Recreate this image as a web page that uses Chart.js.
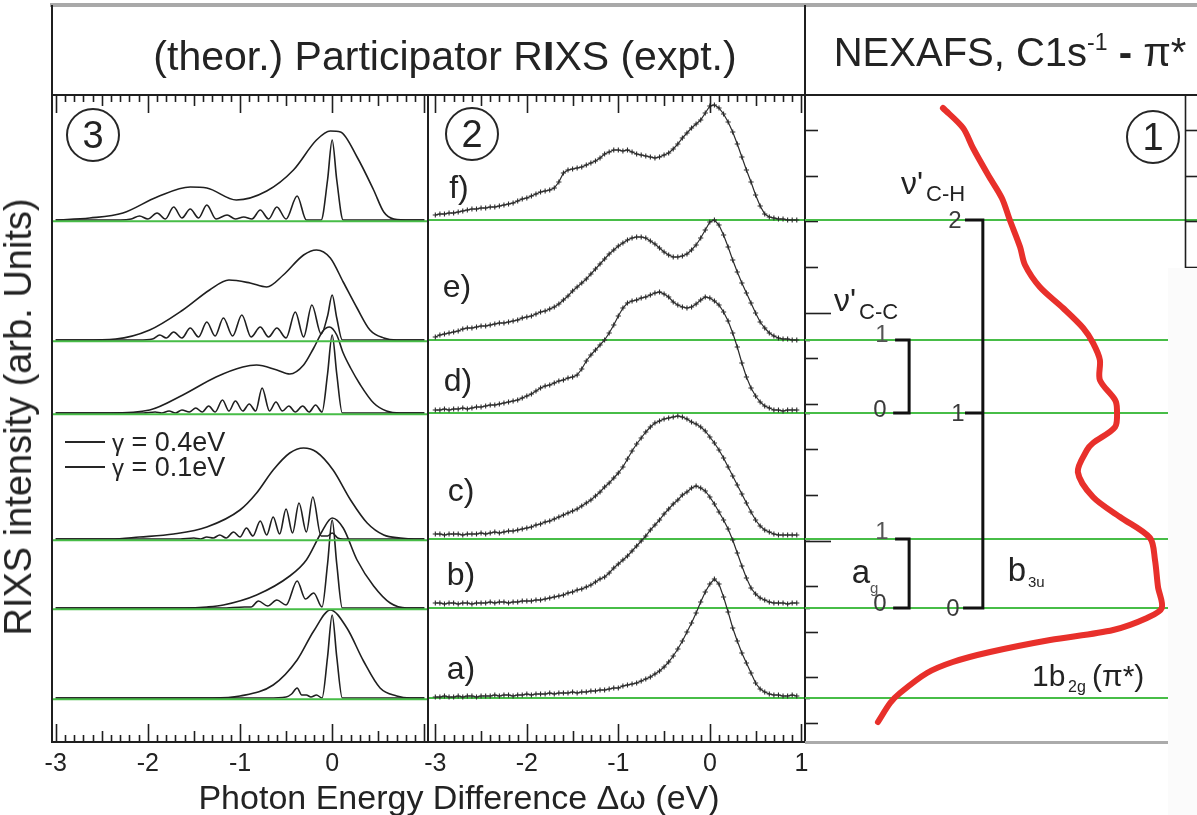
<!DOCTYPE html>
<html>
<head>
<meta charset="utf-8">
<script src="https://cdn.jsdelivr.net/npm/chart.js@4.4.1/dist/chart.umd.min.js"></script>
<style>
  html, body { margin: 0; padding: 0; background: #fff; }
  #stage { position: relative; width: 1197px; height: 815px; overflow: hidden;
           font-family: 'Liberation Sans', Arial, Helvetica, sans-serif; color: #232323; }
  canvas { position: absolute; left: 0; top: 0; }
  .t { position: absolute; white-space: nowrap; line-height: 1; }
  .cc { transform: translate(-50%, -50%); }
  .lm { transform: translateY(-50%); }
  .bar { position: absolute; }
  .circ { position: absolute; width: 50px; height: 50px; border: 2px solid #262626; border-radius: 50%;
          display: flex; align-items: center; justify-content: center; font-size: 38px; line-height: 1; }
  .lg { position: absolute; height: 0; border-top: 2px solid #262626; width: 40px; }
</style>
</head>
<body>
<div id="stage">
  <canvas id="theory" width="1197" height="815"></canvas>
  <canvas id="expt" width="1197" height="815"></canvas>
  <canvas id="nexafs" width="1197" height="815"></canvas>

  <!-- header box -->
  <div class="bar" style="left:50px;top:3px;width:1147px;height:4px;background:#a9a9a9"></div>
  <div class="bar" style="left:51px;top:5px;width:2px;height:91px;background:#1f1f1f"></div>
  <div class="bar" style="left:804px;top:5px;width:2px;height:91px;background:#1f1f1f"></div>
  <div class="bar" style="left:52px;top:94px;width:1145px;height:2px;background:#1f1f1f"></div>
  <div class="t cc" style="left:445px;top:56px;font-size:41px">(theor.) Participator R<b>I</b>XS (expt.)</div>
  <div class="t cc" style="left:1010px;top:52px;font-size:40px">NEXAFS, C1s<span style="font-size:23px;position:relative;top:-16px">-1</span> <b>-</b> π*</div>

  <!-- axis titles -->
  <div class="t cc" style="left:18px;top:417px;font-size:38px;transform:translate(-50%,-50%) rotate(-90deg)">RIXS intensity (arb. Units)</div>
  <div class="t cc" style="left:459px;top:797px;font-size:34px">Photon Energy Difference Δω (eV)</div>

  <!-- panel numbers -->
  <div class="circ" style="left:66px;top:108px">3</div>
  <div class="circ" style="left:445px;top:107px">2</div>
  <div class="circ" style="left:1126px;top:110px">1</div>

  <!-- legend of the theory panel -->
  <div class="lg" style="left:65px;top:441px"></div>
  <div class="t lm" style="left:112px;top:442px;font-size:27px"><span style="font-size:24px">γ</span> = 0.4eV</div>
  <div class="lg" style="left:65px;top:466px"></div>
  <div class="t lm" style="left:112px;top:467px;font-size:27px"><span style="font-size:24px">γ</span> = 0.1eV</div>

  <!-- spectrum labels -->
  <div class="t cc" style="left:459px;top:187px;font-size:32px">f)</div>
  <div class="t cc" style="left:457px;top:286px;font-size:32px">e)</div>
  <div class="t cc" style="left:458px;top:380px;font-size:32px">d)</div>
  <div class="t cc" style="left:461px;top:490px;font-size:32px">c)</div>
  <div class="t cc" style="left:461px;top:574px;font-size:32px">b)</div>
  <div class="t cc" style="left:461px;top:668px;font-size:32px">a)</div>

  <!-- vibrational progressions -->
  <div class="t lm" style="left:901px;top:183px;font-size:32px">ν'</div>
  <div class="t lm" style="left:926px;top:194px;font-size:22px">C-H</div>
  <div class="t cc" style="left:955px;top:220px;font-size:24px;color:#3a3a3a">2</div>
  <div class="t cc" style="left:958px;top:413px;font-size:24px;color:#3a3a3a">1</div>
  <div class="t cc" style="left:953px;top:608px;font-size:24px;color:#3a3a3a">0</div>

  <div class="t lm" style="left:834px;top:300px;font-size:32px">ν'</div>
  <div class="t lm" style="left:859px;top:312px;font-size:22px">C-C</div>
  <div class="t cc" style="left:882px;top:334px;font-size:24px;color:#555">1</div>
  <div class="t cc" style="left:880px;top:409px;font-size:24px;color:#3a3a3a">0</div>

  <div class="t cc" style="left:882px;top:531px;font-size:24px;color:#555">1</div>
  <div class="t cc" style="left:880px;top:603px;font-size:24px;color:#3a3a3a">0</div>
  <div class="t cc" style="left:861px;top:571px;font-size:33px">a</div>
  <div class="t lm" style="left:870px;top:587px;font-size:15px;color:#555">g</div>

  <div class="t cc" style="left:1017px;top:569px;font-size:33px">b</div>
  <div class="t lm" style="left:1028px;top:581px;font-size:15px">3u</div>

  <div class="t lm" style="left:1032px;top:676px;font-size:30px">1b</div>
  <div class="t lm" style="left:1068px;top:687px;font-size:16px">2g</div>
  <div class="t lm" style="left:1092px;top:676px;font-size:30px">(π*)</div>
</div>

<script>
// ---- stacking offsets of spectra a) .. f) (arb. units) ----
const baselines = [44, 134, 203, 329, 402, 522];

// ---- x-axis tick labels ----
const theoryTickLabels = [-3, -2, -1, 0];
const exptTickLabels = [-3, -2, -1, 0, 1];
// unlabelled intensity ticks on the right edge of the experimental panel
const intensityTicks = [19, 65, 110, 156, 201, 247, 293, 338, 384, 429, 475, 521, 566, 612];
const intensityMajor = [201, 429];

// ---- theory, [energy (eV), intensity] for gamma = 0.4 eV (broad) and 0.1 eV (narrow) ----
const thA_broad = [[-3.0,0],[-1.3,0],[-1.0,2],[-0.64,13],[-0.38,38],[-0.2,67],[-0.02,88],[0.16,70],[0.34,37],[0.52,10],[0.7,2],[0.85,0],[1.0,0]];
const thA_narrow = [[-3.0,0],[-0.7,0],[-0.5,1],[-0.44,4],[-0.38,10],[-0.33,3],[-0.28,3],[-0.23,1],[-0.17,3],[-0.11,0],[-0.05,41],[0,83],[0.05,41],[0.11,0],[1.0,0]];

const thB_broad = [[-3.0,0],[-1.6,0],[-1.36,1],[-1.18,3],[-0.82,13],[-0.46,32],[-0.28,48],[-0.12,75],[0,90],[0.12,80],[0.27,48],[0.45,22],[0.63,5],[0.81,0],[1.0,0]];
const thB_narrow = [[-3.0,0],[-1.2,0],[-0.95,1],[-0.88,1],[-0.8,7],[-0.7,2],[-0.6,8],[-0.5,3],[-0.38,27],[-0.29,9],[-0.2,15],[-0.11,1],[-0.05,44],[0,88],[0.05,44],[0.11,0],[1.0,0]];

const thC_broad = [[-3.0,0],[-2.4,0],[-2.09,2],[-1.72,5],[-1.36,12],[-1.0,29],[-0.82,46],[-0.64,69],[-0.46,86],[-0.31,91],[-0.17,87],[0.01,69],[0.2,39],[0.38,16],[0.56,4],[0.74,1],[0.9,0],[1.0,0]];
const thC_narrow = [[-3.0,0],[-1.65,0],[-1.5,1],[-1.43,0],[-1.36,2],[-1.29,1],[-1.22,4],[-1.15,1],[-1.07,7],[-1.0,2],[-0.93,11],[-0.86,3],[-0.78,18],[-0.71,4],[-0.64,22],[-0.57,5],[-0.5,30],[-0.43,6],[-0.36,36],[-0.28,7],[-0.21,42],[-0.12,3],[-0.05,3],[0,6],[0.06,1],[0.12,0],[1.0,0]];

const thD_broad = [[-3.0,0],[-2.41,0],[-1.98,3],[-1.62,18],[-1.26,36],[-0.97,46],[-0.82,48],[-0.6,43],[-0.46,39],[-0.31,48],[-0.2,65],[-0.1,82],[-0.03,86],[0.05,78],[0.12,60],[0.2,45],[0.3,29],[0.45,10],[0.59,2],[0.74,0],[1.0,0]];
const thD_narrow = [[-3.0,0],[-2.05,0],[-1.92,1],[-1.85,0],[-1.77,2],[-1.7,0],[-1.63,3],[-1.55,1],[-1.48,5],[-1.41,1],[-1.34,7],[-1.27,1],[-1.19,13],[-1.12,2],[-1.05,12],[-0.97,2],[-0.9,9],[-0.83,2],[-0.76,25],[-0.68,2],[-0.61,11],[-0.54,2],[-0.47,7],[-0.4,1],[-0.32,7],[-0.25,1],[-0.18,8],[-0.11,1],[-0.05,39],[0,78],[0.05,39],[0.11,0],[1.0,0]];

const thE_broad = [[-3.0,0],[-2.7,0],[-2.35,1],[-1.98,10],[-1.62,30],[-1.33,50],[-1.12,60],[-0.89,57],[-0.71,53],[-0.53,65],[-0.31,85],[-0.17,90],[-0.02,82],[0.12,58],[0.27,32],[0.41,10],[0.56,2],[0.7,0],[1.0,0]];
const thE_narrow = [[-3.0,0],[-2.1,0],[-1.95,1],[-1.87,5],[-1.8,2],[-1.72,8],[-1.63,2],[-1.54,12],[-1.45,3],[-1.36,18],[-1.27,4],[-1.18,22],[-1.08,4],[-0.98,25],[-0.88,3],[-0.78,13],[-0.69,3],[-0.6,12],[-0.5,2],[-0.4,28],[-0.31,3],[-0.22,35],[-0.12,6],[-0.05,24],[0,45],[0.05,22],[0.11,0],[1.0,0]];

const thF_broad = [[-3.0,0],[-2.63,2],[-2.27,7],[-1.9,23],[-1.54,33],[-1.36,32],[-1.04,20],[-0.71,29],[-0.42,50],[-0.17,80],[-0.02,89],[0.09,88],[0.27,63],[0.45,30],[0.56,8],[0.67,1],[0.85,0],[1.0,0]];
const thF_narrow = [[-3.0,0],[-2.3,0],[-2.18,1],[-2.09,4],[-2.0,1],[-1.9,7],[-1.81,1],[-1.72,13],[-1.63,2],[-1.54,11],[-1.45,2],[-1.36,15],[-1.26,1],[-1.14,5],[-1.05,1],[-0.96,3],[-0.87,1],[-0.78,10],[-0.69,1],[-0.6,13],[-0.5,1],[-0.38,24],[-0.28,0],[-0.12,0],[-0.05,40],[0,80],[0.05,40],[0.12,0],[1.0,0]];

// ---- experiment: energy grid (eV) and measured intensities a) .. f) ----
const exptEnergy = [
  -3.00,-2.95,-2.90,-2.85,-2.80,-2.75,-2.70,-2.65,-2.60,-2.55,
  -2.50,-2.45,-2.40,-2.35,-2.30,-2.25,-2.20,-2.15,-2.10,-2.05,
  -2.00,-1.95,-1.90,-1.85,-1.80,-1.75,-1.70,-1.65,-1.60,-1.55,
  -1.50,-1.45,-1.40,-1.35,-1.30,-1.25,-1.20,-1.15,-1.10,-1.05,
  -1.00,-0.95,-0.90,-0.85,-0.80,-0.75,-0.70,-0.65,-0.60,-0.55,
  -0.50,-0.45,-0.40,-0.35,-0.30,-0.25,-0.20,-0.15,-0.10,-0.05,
   0.00, 0.05, 0.10, 0.15, 0.20, 0.25, 0.30, 0.35, 0.40, 0.45,
   0.50, 0.55, 0.60, 0.65, 0.70, 0.75, 0.80, 0.85, 0.90, 0.95];

const exptA = [1,1,2,1,1,2,1,2,2,1, 2,2,2,3,2,3,3,2,3,3, 4,3,4,4,4,5,4,5,5,5, 6,5,6,6,7,7,8,8,9,10,
  10,12,13,14,15,17,19,21,24,27, 31,36,42,49,57,66,75,85,96,106, 114,119,114,101,86,70,57,45,35,25, 15,9,6,4,3,3,2,2,3,2];
const exptB = [5,5,4,5,5,4,5,5,4,5, 5,5,6,5,6,6,5,6,6,7, 7,7,8,8,9,10,11,12,13,15, 16,18,19,21,23,26,29,31,35,40,
  44,48,52,57,62,67,72,78,83,88, 94,99,104,108,113,116,120,122,120,117, 111,104,96,88,79,68,55,42,30,20, 14,10,8,6,5,5,5,4,5,5];
const exptC = [5,5,4,5,5,5,4,5,5,5, 6,5,6,7,6,7,8,8,9,10, 11,12,14,15,17,18,20,22,24,26, 28,30,33,36,39,43,47,52,56,61,
  66,72,80,88,95,101,107,112,116,118, 120,121,122,123,122,120,117,115,112,108, 102,96,89,81,72,63,54,45,36,27, 19,13,9,7,5,4,4,4,4,4];
const exptD = [3,3,4,3,4,4,5,4,5,6, 6,7,8,8,9,10,11,12,13,15, 17,19,22,25,27,28,30,32,33,35, 36,38,44,52,58,63,68,73,80,88,
  97,105,110,112,113,115,116,118,120,121, 119,116,111,108,106,105,106,109,113,116, 115,112,108,101,92,80,66,50,36,25, 17,11,7,5,3,3,2,3,3,3];
const exptE = [3,5,6,7,8,9,11,12,12,13, 14,14,15,16,17,17,18,19,20,22, 23,24,26,28,29,31,33,36,40,44, 49,53,57,61,66,71,76,81,86,90,
  94,97,100,102,103,103,102,99,96,92, 88,85,83,83,84,86,90,95,102,110, 118,120,115,105,93,80,68,57,47,37, 27,18,12,7,4,2,1,1,0,0];
const exptF = [5,6,6,7,7,8,9,10,11,11, 12,12,13,13,14,15,16,17,19,21, 22,24,26,28,29,30,32,38,47,50, 51,52,53,55,57,59,62,66,68,70,
  70,69,70,68,66,65,64,63,62,63, 65,67,71,76,82,87,92,96,100,107, 114,115,112,106,98,88,76,63,50,38, 25,14,6,3,2,1,1,0,0,0];

// ---- NEXAFS C1s -> pi*, photon energy (same offset units) vs absorption ----
const nexafsEnergy = [634,614,594,567,544,522,495,477,455,434,414,399,382,362,342,332,315,299,292,270,245,225,204,182,155,134,124,112,102,90,80,69,49,39,20];
const nexafsIntensity = [0.363,0.416,0.442,0.482,0.518,0.539,0.566,0.579,0.618,0.679,0.732,0.758,0.776,0.776,0.816,0.821,0.816,0.758,0.742,0.718,0.758,0.829,0.908,0.921,0.929,0.939,0.900,0.811,0.645,0.487,0.389,0.321,0.250,0.224,0.192];

// ------------------------------------------------------------------
Chart.defaults.font.family = "'Liberation Sans', Arial, Helvetica, sans-serif";
Chart.defaults.color = '#232323';

const INK = '#1f1f1f';
const GREEN = '#47bd47';
const Y_RANGE = { min: 0, max: 647 };

function xAxis(min, max, labels) {
  return {
    type: 'linear', position: 'bottom', min: min, max: max,
    grid: { display: false, drawTicks: false },
    border: { display: false },
    ticks: { font: { size: 25 }, color: '#232323', padding: 7, autoSkip: false, maxRotation: 0, minRotation: 0,
             callback: v => String(v) },
    afterBuildTicks: s => { s.ticks = labels.map(v => ({ value: v })); },
    afterFit: s => { s.height = 30; }
  };
}
function hiddenAxis(r) { return { type: 'linear', display: false, min: r.min, max: r.max }; }

function greenLines(chart, x0, x1, dy) {
  const ctx = chart.ctx, ys = chart.scales.y;
  ctx.save();
  ctx.strokeStyle = GREEN; ctx.lineWidth = 2;
  baselines.forEach(b => {
    const y = ys.getPixelForValue(b) + dy;
    ctx.beginPath(); ctx.moveTo(x0, y); ctx.lineTo(x1, y); ctx.stroke();
  });
  ctx.restore();
}

// frame plus inward ticks every 0.1 eV (taller at 0.5 and integer eV)
function frameAndTicks(chart) {
  const ctx = chart.ctx, a = chart.chartArea, xs = chart.scales.x;
  ctx.save();
  ctx.strokeStyle = INK;
  ctx.lineWidth = 2;
  ctx.strokeRect(a.left, a.top, a.right - a.left, a.bottom - a.top);
  ctx.lineWidth = 1.6;
  for (let k = -30; k <= 10; k++) {
    const v = k / 10;
    if (v < xs.min || v > xs.max) continue;
    const x = Math.round(xs.getPixelForValue(v)) + 0.5;
    const len = (k % 10 === 0) ? 18 : (k % 5 === 0 ? 11 : 7);
    ctx.beginPath();
    ctx.moveTo(x, a.bottom); ctx.lineTo(x, a.bottom - len);
    ctx.moveTo(x, a.top); ctx.lineTo(x, a.top + len);
    ctx.stroke();
  }
  ctx.restore();
}

const common = {
  responsive: false, animation: false, events: [],
  plugins: { legend: { display: false }, tooltip: { enabled: false } }
};

// ---------------- theory panel (3) ----------------
const theorySets = [
  [thA_broad, thA_narrow], [thB_broad, thB_narrow], [thC_broad, thC_narrow],
  [thD_broad, thD_narrow], [thE_broad, thE_narrow], [thF_broad, thF_narrow]
];
const theoryData = [];
theorySets.forEach((pair, i) => {
  pair.forEach((curve, j) => {
    theoryData.push({
      label: (j === 0 ? 'γ = 0.4eV ' : 'γ = 0.1eV ') + 'abcdef'[i] + ')',
      data: curve.map(p => ({ x: p[0], y: baselines[i] + p[1] })),
      showLine: true, borderColor: INK, borderWidth: 1.6, pointRadius: 0,
      cubicInterpolationMode: 'monotone'
    });
  });
});

new Chart(document.getElementById('theory'), {
  type: 'scatter',
  data: { datasets: theoryData },
  options: Object.assign({}, common, {
    layout: { padding: { left: 52, right: 769, top: 95, bottom: 43 } },
    scales: { x: xAxis(-3.04, 1.04, theoryTickLabels), y: hiddenAxis(Y_RANGE) }
  }),
  plugins: [{
    id: 'theoryDecor',
    afterDatasetsDraw(chart) {
      const a = chart.chartArea;
      greenLines(chart, a.left, a.right, 1.2);
      frameAndTicks(chart);
    }
  }]
});

// ---------------- experiment panel (2) ----------------
const exptSeries = [exptA, exptB, exptC, exptD, exptE, exptF];
const exptData = exptSeries.map((vals, i) => ({
  label: 'abcdef'[i] + ')',
  data: exptEnergy.map((e, k) => ({ x: e, y: baselines[i] + vals[k] })),
  showLine: true, borderColor: '#2a2a2a', borderWidth: 1.2,
  pointStyle: 'cross', pointRadius: 2.6, pointBorderWidth: 1.1, pointBorderColor: '#2a2a2a',
  tension: 0
}));

new Chart(document.getElementById('expt'), {
  type: 'scatter',
  data: { datasets: exptData },
  options: Object.assign({}, common, {
    layout: { padding: { left: 428, right: 392, top: 95, bottom: 43 } },
    scales: { x: xAxis(-3.08, 1.04, exptTickLabels), y: hiddenAxis(Y_RANGE) }
  }),
  plugins: [{
    id: 'exptDecor',
    beforeDatasetsDraw(chart) {
      const a = chart.chartArea;
      greenLines(chart, a.left, a.right, 0);
    },
    afterDatasetsDraw(chart) {
      const ctx = chart.ctx, a = chart.chartArea, ys = chart.scales.y;
      frameAndTicks(chart);
      ctx.save();
      ctx.strokeStyle = INK; ctx.lineWidth = 1.6;
      intensityTicks.forEach(v => {
        const y = Math.round(ys.getPixelForValue(v)) + 0.5;
        const len = intensityMajor.includes(v) ? 26 : 13;
        ctx.beginPath(); ctx.moveTo(a.right, y); ctx.lineTo(a.right + len, y); ctx.stroke();
      });
      baselines.forEach(v => {
        const y = Math.round(ys.getPixelForValue(v)) + 0.5;
        ctx.beginPath(); ctx.moveTo(a.right, y); ctx.lineTo(a.right + 5, y); ctx.stroke();
      });
      ctx.restore();
    }
  }]
});

// ---------------- NEXAFS panel (1) ----------------
// vibrational progressions: C-H (v'=0,1,2), C-C (v'=0,1), a_g (v'=0,1)
const progressions = [
  { x0: 0.421, x1: 0.468, xb: 0.416, levels: [baselines[1], baselines[3], baselines[5]] },
  { x0: 0.237, x1: 0.274, xb: 0.232, levels: [baselines[3], baselines[4]] },
  { x0: 0.237, x1: 0.274, xb: 0.232, levels: [baselines[1], baselines[2]] }
];

new Chart(document.getElementById('nexafs'), {
  type: 'scatter',
  data: { datasets: [{
    label: 'NEXAFS',
    data: nexafsEnergy.map((e, k) => ({ x: nexafsIntensity[k], y: e })),
    showLine: true, borderColor: '#e8302b', borderWidth: 6, pointRadius: 0,
    tension: 0.3, borderCapStyle: 'round', borderJoinStyle: 'round'
  }] },
  options: Object.assign({}, common, {
    layout: { padding: { left: 805, right: 12, top: 95, bottom: 73 } },
    scales: { x: { type: 'linear', display: false, min: 0, max: 1 }, y: hiddenAxis(Y_RANGE) }
  }),
  plugins: [{
    id: 'nexafsDecor',
    beforeDatasetsDraw(chart) {
      const ctx = chart.ctx, a = chart.chartArea, xs = chart.scales.x, ys = chart.scales.y;
      greenLines(chart, a.left, chart.width, 0);
      ctx.save();
      ctx.strokeStyle = '#111'; ctx.lineWidth = 3; ctx.lineJoin = 'miter'; ctx.lineCap = 'butt';
      progressions.forEach(p => {
        const lv = p.levels;
        const top = ys.getPixelForValue(lv[lv.length - 1]);
        const bot = ys.getPixelForValue(lv[0]);
        const xa = xs.getPixelForValue(p.x0), xb = xs.getPixelForValue(p.x1), xc = xs.getPixelForValue(p.xb);
        ctx.beginPath();
        ctx.moveTo(xa, top); ctx.lineTo(xb, top); ctx.lineTo(xb, bot); ctx.lineTo(xc, bot);
        ctx.stroke();
        lv.slice(1, -1).forEach(m => {
          const y = ys.getPixelForValue(m);
          ctx.beginPath(); ctx.moveTo(xa, y); ctx.lineTo(xb, y); ctx.stroke();
        });
      });
      ctx.restore();
    },
    afterDatasetsDraw(chart) {
      const ctx = chart.ctx, a = chart.chartArea, ys = chart.scales.y;
      ctx.save();
      // right-hand intensity axis
      ctx.strokeStyle = INK; ctx.lineWidth = 1.6;
      ctx.beginPath(); ctx.moveTo(a.right + 0.5, a.top); ctx.lineTo(a.right + 0.5, a.bottom); ctx.stroke();
      intensityTicks.forEach(v => {
        const y = Math.round(ys.getPixelForValue(v)) + 0.5;
        ctx.beginPath(); ctx.moveTo(a.right, y); ctx.lineTo(chart.width, y); ctx.stroke();
      });
      // pale strip over the lower right edge
      ctx.fillStyle = '#fbfbfb';
      ctx.fillRect(1168, 268, chart.width - 1168, chart.height - 268);
      // bottom rule
      ctx.fillStyle = '#ababab';
      ctx.fillRect(a.left, a.bottom - 1, 1168 - a.left, 3);
      ctx.restore();
    }
  }]
});
</script>
</body>
</html>
